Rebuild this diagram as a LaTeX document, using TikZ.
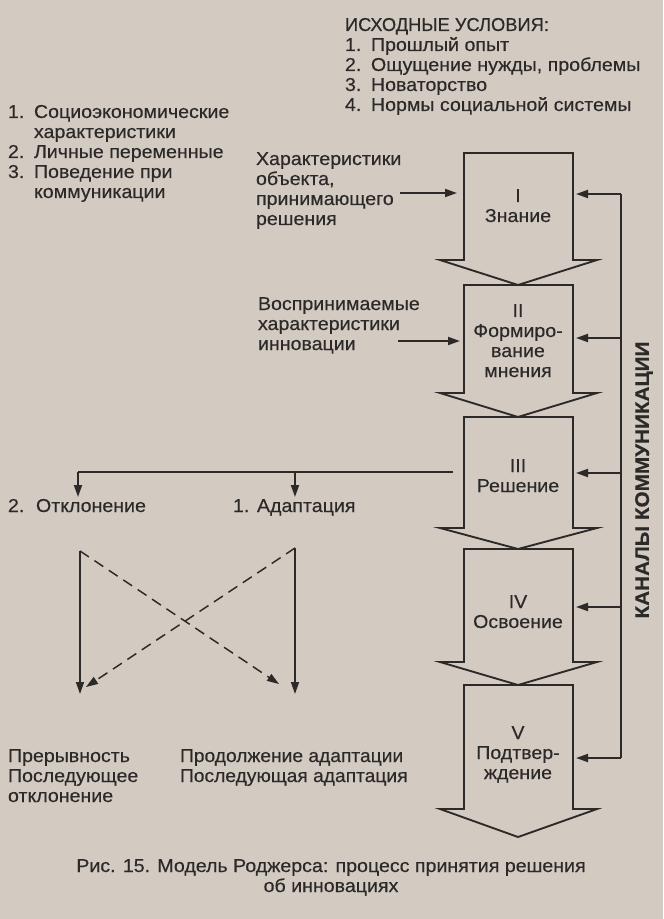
\documentclass[tikz,border=0pt]{standalone}
\usepackage{fontspec}
\setmainfont{Liberation Sans}[FakeStretch=1.05,FakeBold=0.35]
\newfontfamily\titlefont{Liberation Sans}[FakeStretch=0.98,FakeBold=0.35]
\newfontfamily\plainfont{Liberation Sans}[FakeStretch=1.03,FakeBold=0.35]
\usetikzlibrary{arrows.meta,calc}
\definecolor{paper}{RGB}{211,202,194}
\definecolor{ink}{RGB}{44,42,41}
\newcommand{\numbox}[1]{\hbox to 19.5pt{#1\hfil}}
\begin{document}
\begin{tikzpicture}[x=0.75pt,y=-0.75pt,
  every node/.style={inner sep=0pt, outer sep=0pt, text=ink},
  txt/.style={font=\fontsize{14}{15}\selectfont, align=left, anchor=north west},
  stagetxt/.style={font=\fontsize{14}{15}\selectfont, align=center, anchor=north},
  ln/.style={draw=ink, line width=1.4pt},
  thinln/.style={draw=ink, line width=1.1pt},
  arr/.style={ln, -{Triangle[length=9pt,width=6pt]}},
  thinarr/.style={thinln, -{Triangle[length=9pt,width=6pt]}},
  dashln/.style={thinln, dash pattern=on 8pt off 5pt, -{Triangle[length=9pt,width=6pt]}},
  blockarrow/.style={draw=ink, line width=1.4pt, line join=miter}
]
\fill[paper] (0,0) rectangle (663,919);
\useasboundingbox (0,0) rectangle (663,919);

% ---- top list
\node[txt] (cond) at (345,17) {\strut{\titlefont ИСХОДНЫЕ УСЛОВИЯ:}\\
\strut\numbox{1.}Прошлый опыт\\
\strut\numbox{2.}Ощущение нужды, проблемы\\
\strut\numbox{3.}Новаторство\\
\strut\numbox{4.}Нормы социальной системы};

% ---- left list
\node[txt] (vars) at (8,104) {\strut\numbox{1.}Социоэкономические\\
\strut\hspace*{19.5pt}характеристики\\
\strut\numbox{2.}Личные переменные\\
\strut\numbox{3.}Поведение при\\
\strut\hspace*{19.5pt}коммуникации};

% ---- inputs
\node[txt] (in1) at (256,151) {\strut Характеристики\\\strut объекта,\\\strut принимающего\\\strut решения};
\node[txt] (in2) at (258,296) {\strut Воспринимаемые\\\strut характеристики\\\strut инновации};

% ---- stage block arrows
\def\bl{464}\def\br{573}\def\wl{440}\def\wr{597}\def\cx{518}
\foreach \n/\t/\w/\p in {1/153/260/285, 2/285/393/417, 3/417/528/549, 4/549/662/685, 5/685/809/837}{
  \draw[blockarrow] (\bl,\t) coordinate (tl\n) -- (\br,\t) -- (\br,\w) -- (\wr,\w) -- (\cx,\p) -- (\wl,\w) -- (\bl,\w) -- cycle;
}
\node[stagetxt] (s1) at (\cx,188) {\strut I\\\strut Знание};
\node[stagetxt] (s2) at (\cx,303) {\strut II\\\strut Формиро-\\\strut вание\\\strut мнения};
\node[stagetxt] (s3) at (\cx,458) {\strut III\\\strut Решение};
\node[stagetxt] (s4) at (\cx,594) {\strut IV\\\strut Освоение};
\node[stagetxt] (s5) at (\cx,725) {\strut V\\\strut Подтвер-\\\strut ждение};

% ---- feedback (communication channels)
\coordinate (f1) at (621,194);
\coordinate (f2) at (621,338);
\coordinate (f3) at (621,473);
\coordinate (f4) at (621,607);
\coordinate (f5) at (621,758);
\draw[ln] (f1) -- (f5);
\foreach \i in {1,...,5}{ \draw[arr] (f\i) -- (576, 0 |- f\i); }
\node[font=\fontsize{14.8}{15}\selectfont\bfseries, rotate=90] (chan) at (644,480) {КАНАЛЫ КОММУНИКАЦИИ};

% ---- input arrows
\coordinate (a1) at (400,193);
\coordinate (a2) at (398,341);
\draw[arr] (a1) -- (457,193);
\draw[arr] (a2) -- (460,341);

% ---- decision split
\coordinate (d0) at (453,472);
\coordinate (dl) at (78,472);
\coordinate (dr) at (295,472);
\draw[ln] (d0) -- (dl);
\draw[arr] (dl) -- (78,497);
\draw[arr] (dr) -- (295,497);
\node[txt] (rej) at (8,498) {\strut\hbox to 21pt{2.\hfil}Отклонение};
\node[txt] (adop) at (233,498) {\strut\hbox to 18pt{1.\hfil}Адаптация};

% ---- X
\coordinate (xl) at (80,551);
\coordinate (xr) at (295,548);
\draw[thinarr] (xl) -- (80,694);
\draw[thinarr] (xr) -- (295,694);
\draw[dashln] (xl) -- (279,684);
\draw[dashln] (xr) -- (86,687);

\node[txt] (res1) at (8,748) {\strut Прерывность\\\strut Последующее\\\strut отклонение};
\node[txt, font=\fontsize{14}{15}\plainfont] (res2) at (180,748) {\strut Продолжение адаптации\\\strut Последующая адаптация};

% ---- caption
\node[font=\fontsize{14}{15}\selectfont, align=center, anchor=north] (cap) at (331,858) {\strut Рис. 15. Модель Роджерса: процесс принятия решения\\\strut об инновациях};
\end{tikzpicture}
\end{document}
